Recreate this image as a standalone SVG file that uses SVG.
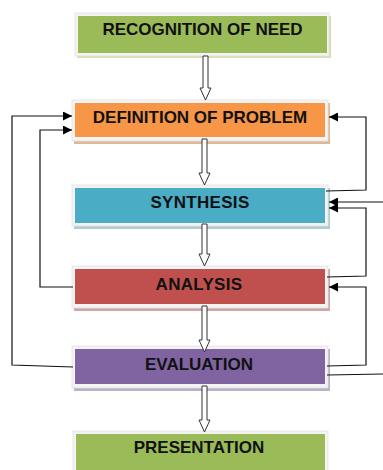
<svg xmlns="http://www.w3.org/2000/svg" width="383" height="470" viewBox="0 0 383 470">
<style>
.frame{fill:#f3f3f3;stroke:#e0e0e0;stroke-width:0.8}
.lbl{font-family:"Liberation Sans",Arial,sans-serif;font-weight:bold;font-size:17px;fill:#111;text-anchor:middle}
.conn{fill:none;stroke:#111;stroke-width:1.2}
.blk{fill:#fff;stroke:#333;stroke-width:1}
</style>
<defs>
<marker id="ah" viewBox="0 0 10 10" refX="10" refY="5" markerWidth="9" markerHeight="9" markerUnits="userSpaceOnUse" orient="auto">
<path d="M0,0 L10,5 L0,10 Z" fill="#000"/>
</marker>
</defs>
<rect width="383" height="470" fill="#fff"/>
<g id="recognition">
<rect x="77" y="16" width="254" height="42" fill="#9bbb59" opacity="0.45"/>
<rect class="frame" x="75" y="13" width="254" height="43"/>
<rect x="78" y="16" width="249" height="37" fill="#9bbb59"/>
<text class="lbl" x="202.5" y="35">RECOGNITION OF NEED</text>
</g>
<g id="definition">
<rect x="74" y="103" width="256" height="41" fill="#d39a6c" opacity="0.7"/>
<rect class="frame" x="72" y="100" width="256" height="41"/>
<rect x="75" y="103" width="250" height="34" fill="#f79646"/>
<text class="lbl" x="200" y="122.5">DEFINITION OF PROBLEM</text>
</g>
<g id="synthesis">
<rect x="74" y="188" width="256" height="41" fill="#8fb6c2" opacity="0.7"/>
<rect class="frame" x="72" y="185" width="256" height="41"/>
<rect x="75" y="188" width="250" height="35" fill="#4bacc6"/>
<text class="lbl" x="200" y="207.5" letter-spacing="0.3">SYNTHESIS</text>
</g>
<g id="analysis">
<rect x="74" y="269" width="256" height="42" fill="#b98a8a" opacity="0.75"/>
<rect class="frame" x="72" y="266" width="256" height="42"/>
<rect x="75" y="269" width="250" height="35" fill="#c0504d"/>
<text class="lbl" x="199" y="289.5" letter-spacing="0.3">ANALYSIS</text>
</g>
<g id="evaluation">
<rect x="74" y="349" width="256" height="42" fill="#a596b5" opacity="0.75"/>
<rect class="frame" x="72" y="346" width="256" height="42"/>
<rect x="75" y="349" width="250" height="35" fill="#8064a2"/>
<text class="lbl" x="199" y="369.5">EVALUATION</text>
</g>
<g id="presentation">
<rect class="frame" x="73" y="431" width="255" height="42"/>
<rect x="76" y="434" width="249" height="36" fill="#9bbb59"/>
<text class="lbl" x="199" y="453">PRESENTATION</text>
</g>
<g id="connectors">
<path class="blk" d="M203,56 L208,56 L208,88 L211,88 L205.5,100 L200,88 L203,88 Z"/>
<path class="blk" d="M202,139 L207,139 L207,173 L210,173 L204.5,185 L199,173 L202,173 Z"/>
<path class="blk" d="M202,224 L207,224 L207,254 L210,254 L204.5,266 L199,254 L202,254 Z"/>
<path class="blk" d="M202,306 L207,306 L207,340 L210,340 L204.5,352 L199,340 L202,340 Z"/>
<path class="blk" d="M202,386 L207,386 L207,420 L210,420 L204.5,432 L199,420 L202,420 Z"/>
<path class="conn" d="M73,367 L12,365 L12,116 L72,116" marker-end="url(#ah)"/>
<path class="conn" d="M73,287 L40,287 L40,130 L72,130" marker-end="url(#ah)"/>
<path class="conn" d="M326,191 L366,190 L366,117 L329,117" marker-end="url(#ah)"/>
<path class="conn" d="M383,202 L329,202" marker-end="url(#ah)"/>
<path class="conn" d="M327,277 L366,276 L366,208 L329,208" marker-end="url(#ah)"/>
<path class="conn" d="M327,366 L366,365 L366,287 L329,287" marker-end="url(#ah)"/>
<path class="conn" d="M327,375 L383,374"/>
</g>
</svg>
